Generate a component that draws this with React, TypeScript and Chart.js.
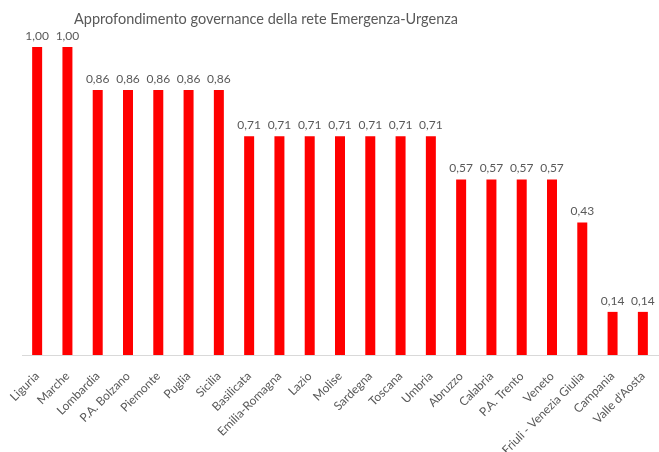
import React, { useEffect, useRef } from "react";
import { Chart, registerables } from "chart.js";

Chart.register(...registerables);

const TITLE = "Approfondimento governance della rete Emergenza-Urgenza";
const regions = [
  "Liguria", "Marche", "Lombardia", "P.A. Bolzano", "Piemonte", "Puglia", "Sicilia",
  "Basilicata", "Emilia-Romagna", "Lazio", "Molise", "Sardegna", "Toscana", "Umbria",
  "Abruzzo", "Calabria", "P.A. Trento", "Veneto", "Friuli - Venezia Giulia", "Campania", "Valle d'Aosta",
];
const scores = [
  1.0, 1.0, 0.86, 0.86, 0.86, 0.86, 0.86,
  0.71, 0.71, 0.71, 0.71, 0.71, 0.71, 0.71,
  0.57, 0.57, 0.57, 0.57, 0.43, 0.14, 0.14,
];

const FONT = "Lato, 'Liberation Sans', sans-serif";
const GRAY = "#595959";

const titlePlugin = {
  id: "customTitle",
  afterDraw(chart: any) {
    const ctx = chart.ctx;
    ctx.save();
    ctx.font = `14.5px ${FONT}`;
    ctx.fillStyle = GRAY;
    ctx.textAlign = "center";
    ctx.textBaseline = "middle";
    ctx.fillText(TITLE, 266, 19);
    ctx.restore();
  },
};

const valueLabels = {
  id: "valueLabels",
  afterDatasetsDraw(chart: any) {
    const ctx = chart.ctx;
    const meta = chart.getDatasetMeta(0);
    const data = chart.data.datasets[0].data as number[];
    ctx.save();
    ctx.font = `12px ${FONT}`;
    ctx.fillStyle = GRAY;
    ctx.textAlign = "center";
    ctx.textBaseline = "bottom";
    meta.data.forEach((bar: any, i: number) => {
      ctx.fillText(data[i].toFixed(2).replace(".", ","), bar.x, bar.y - 5);
    });
    ctx.restore();
  },
};

export default function App() {
  const ref = useRef<HTMLCanvasElement>(null);
  useEffect(() => {
    if (!ref.current) return;
    const chart = new Chart(ref.current, {
      type: "bar",
      data: {
        labels: regions,
        datasets: [
          {
            data: scores,
            backgroundColor: "#ff0000",
            borderWidth: 0,
            barPercentage: 0.33,
            categoryPercentage: 1,
          },
        ],
      },
      options: {
        animation: false,
        responsive: false,
        maintainAspectRatio: false,
        layout: { padding: { top: 47, left: 22, right: 1, bottom: 0 } },
        plugins: { legend: { display: false }, title: { display: false }, tooltip: { enabled: false } },
        scales: {
          x: {
            offset: true,
            grid: { display: false, drawTicks: false },
            border: { display: true, color: "#d9d9d9", width: 1 },
            ticks: {
              autoSkip: false,
              minRotation: 45,
              maxRotation: 45,
              padding: 14,
              color: GRAY,
              font: { family: FONT, size: 12 },
            },
            afterFit: (scale: any) => {
              scale.height = 97;
              scale.paddingLeft = 0;
              scale.paddingRight = 0;
            },
          },
          y: {
            display: false,
            min: 0,
            max: 1,
          },
        },
      },
      plugins: [titlePlugin, valueLabels],
    });
    return () => chart.destroy();
  }, []);
  return (
    <div style={{ position: "fixed", left: 0, top: 0, width: 659, height: 452, background: "#fff" }}>
      <canvas ref={ref} width={659} height={452} style={{ width: 659, height: 452, display: "block" }} />
    </div>
  );
}
